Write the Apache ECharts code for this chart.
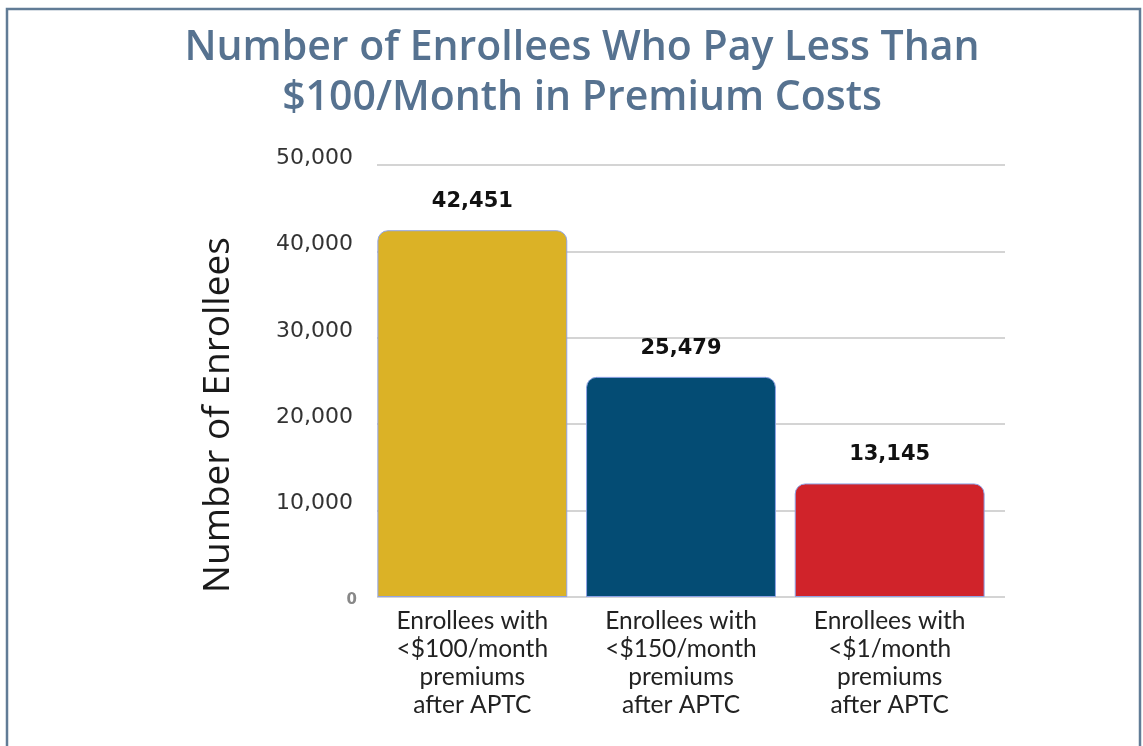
<!DOCTYPE html>
<html><head><meta charset="utf-8">
<script src="https://cdn.jsdelivr.net/npm/echarts@6/dist/echarts.min.js"></script>
<style>html,body{margin:0;padding:0;background:#fff}#c{width:1143px;height:746px}</style>
</head><body><div id="c"></div>
<script>
const categories = ['Enrollees with\n<$100/month\npremiums\nafter APTC','Enrollees with\n<$150/month\npremiums\nafter APTC','Enrollees with\n<$1/month\npremiums\nafter APTC'];
const values = [42451, 25479, 13145];
const barColors = ['#DBB226', '#044C74', '#D0232A'];
const yTicks = [0, 10000, 20000, 30000, 40000, 50000];
const yAxisTitle = 'Number of Enrollees';

const chart = echarts.init(document.getElementById('c'));
const fmt = v => v.toLocaleString('en-US');
chart.setOption({
  animation: false,
  backgroundColor: '#fff',
  title: {
    text: 'Number of Enrollees Who Pay Less Than\n$100/Month in Premium Costs',
    left: 577, top: 18, textAlign: 'center',
    textStyle: {fontFamily: 'Open Sans', fontSize: 41, fontWeight: 600, color: '#567290', lineHeight: 50}
  },
  graphic: [
    {type: 'rect', shape: {x: 7, y: 9, width: 1133, height: 800}, style: {fill: 'none', stroke: '#617c96', lineWidth: 2.5}, silent: true},
    {type: 'text', x: 218, y: 415, rotation: Math.PI / 2, silent: true,
     style: {text: yAxisTitle, fontFamily: 'Open Sans', fontSize: 37, fill: '#1a1a1a', align: 'center', verticalAlign: 'middle'}}
  ],
  grid: [
    {left: 377, right: 138, top: 165, bottom: 149},
    {left: 368, right: 149, top: 165, bottom: 149}
  ],
  xAxis: [
    {gridIndex: 0, type: 'category', data: ['a'], show: false},
    {gridIndex: 1, type: 'category', data: categories,
     axisLine: {show: false}, axisTick: {show: false},
     axisLabel: {interval: 0, margin: 10, fontFamily: 'Lato', fontSize: 24.5, lineHeight: 28, color: '#222'}}
  ],
  yAxis: [
    {gridIndex: 0, type: 'value', min: yTicks[0], max: yTicks[yTicks.length-1], interval: 10000,
     axisLine: {show: false}, axisTick: {show: false},
     splitLine: {lineStyle: {color: '#d4d4d4', width: 2}},
     axisLabel: {margin: 24, padding: [0,0,14,0], fontFamily: 'DejaVu Sans', fontSize: 22, color: '#333',
       formatter: v => v === 0 ? '{z|0}' : fmt(v),
       rich: {z: {fontSize: 15, color: '#888', fontWeight: 'bold', padding: [0,-4,-20,0]}}}},
    {gridIndex: 1, type: 'value', min: yTicks[0], max: yTicks[yTicks.length-1], interval: 10000, show: false}
  ],
  series: [{
    type: 'bar', xAxisIndex: 1, yAxisIndex: 1,
    barCategoryGap: '9%',
    data: values.map((v, i) => ({value: v, itemStyle: {color: barColors[i]}})),
    itemStyle: {borderRadius: [10, 10, 0, 0], borderColor: '#8fa3e6', borderWidth: 1},
    label: {show: true, position: 'top', distance: 18, formatter: p => fmt(p.value),
      fontFamily: 'DejaVu Sans', fontSize: 21, fontWeight: 'bold', color: '#111'}
  }]
});
</script></body></html>
